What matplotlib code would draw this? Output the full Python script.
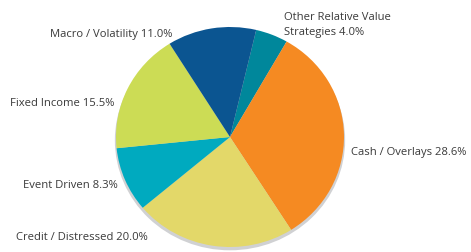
import matplotlib
matplotlib.use("Agg")
import matplotlib.pyplot as plt
from matplotlib.patches import Ellipse

categories = ["Other Relative Value\nStrategies", "Cash / Overlays", "Credit / Distressed",
              "Event Driven", "Fixed Income", "Macro / Volatility"]
values = [4.0, 28.6, 20.0, 8.3, 15.5, 11.0]
colors = ["#00879B", "#F58A22", "#E3D869", "#00AABF", "#CCDC55", "#0B5591"]

W, H = 471, 252
fig = plt.figure(figsize=(W / 100, H / 100), dpi=100)
fig.patch.set_facecolor("white")

cx, cy, rx, ry = 230, 137, 114, 110
ax = fig.add_axes([(cx - rx) / W, 1 - (cy + ry) / H, 2 * rx / W, 2 * ry / H])
ax.axis("off")

shadow = Ellipse((0.0, -0.03), 2.02, 2.0, facecolor="#D0D1D3", edgecolor="none",
                 zorder=0, clip_on=False)
ax.add_patch(shadow)
wedges, _ = ax.pie(values, colors=colors, startangle=76.7, counterclock=False,
                   radius=1.0, wedgeprops=dict(linewidth=0, edgecolor="none"))
for w in wedges:
    w.set_zorder(1)
    w.set_clip_on(False)
ax.set_aspect("auto")
ax.set_xlim(-1, 1)
ax.set_ylim(-1, 1)

font = dict(family=["Open Sans", "DejaVu Sans"], fontsize=8.1, color="#3a3a3a")
labels = [f"{c} {v:.1f}%" for c, v in zip(categories, values)]
# positions (pixel coords: left x, center y)
pos = [(284, 25, "left"), (351, 152, "left"), (16, 237, "left"),
       (23, 186, "left"), (10, 103, "left"), (50, 34, "left")]
for lab, (x, y, ha) in zip(labels, pos):
    fig.text(x / W, 1 - y / H, lab, ha=ha, va="center", linespacing=1.55, **font)

fig.savefig("out.png", dpi=100, facecolor="white")
